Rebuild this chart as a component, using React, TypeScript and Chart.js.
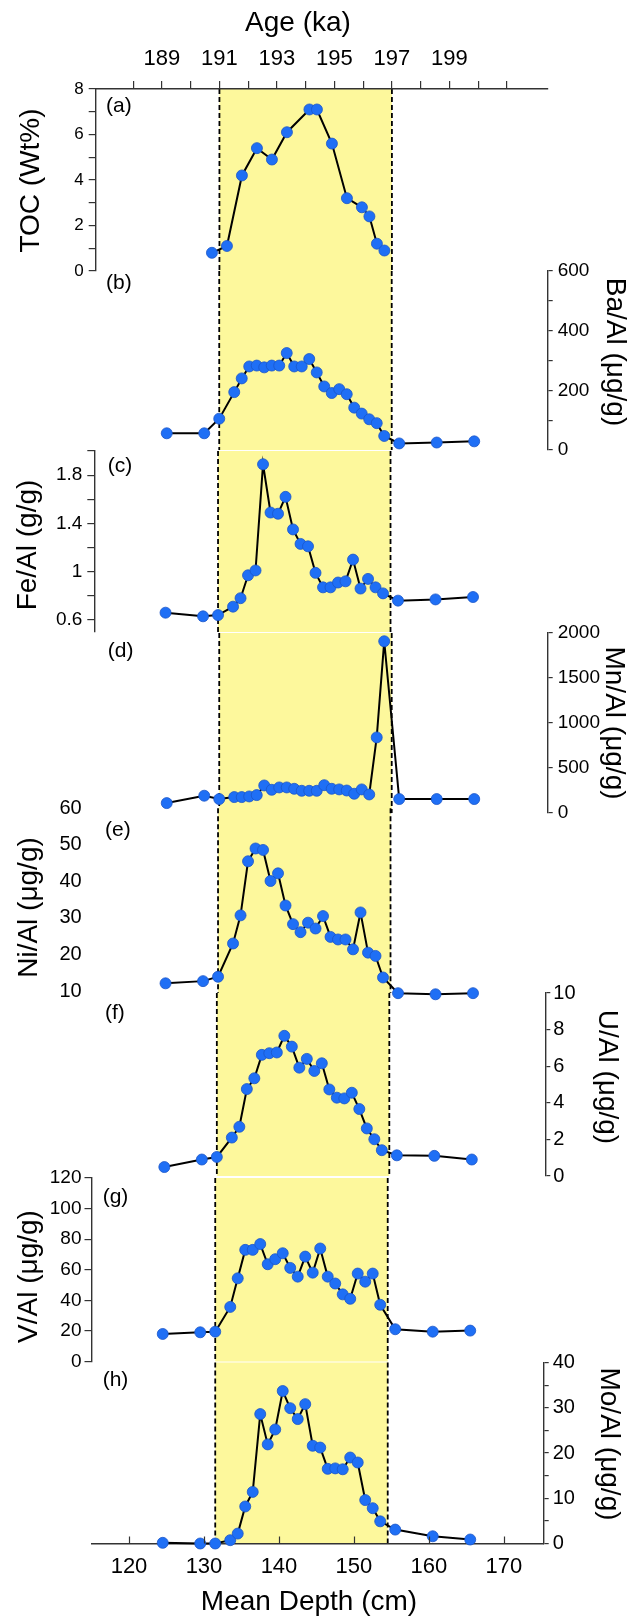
import React, { useEffect, useRef } from "react";
import { Chart, registerables } from "chart.js";

Chart.register(...registerables);

// ---------------- data ----------------
// Mean depth (cm) of the samples used in panels (b)-(h)
const sampleDepths = [
  124.5, 129.5, 131.5, 133.5, 134.5, 135.5, 136.5, 137.5, 138.5, 139.5, 140.5,
  141.5, 142.5, 143.5, 144.5, 145.5, 146.5, 147.5, 148.5, 149.5, 150.5, 151.5,
  152.5, 153.5, 155.5, 160.5, 165.5,
];
// Mean depth (cm) of the TOC samples, panel (a)
const tocDepths = [
  130.5, 132.5, 134.5, 136.5, 138.5, 140.5, 143.5, 144.5, 146.5, 148.5, 150.5,
  151.5, 152.5, 153.5,
];

const tocWt = [0.8, 1.1, 4.2, 5.4, 4.9, 6.1, 7.1, 7.1, 5.6, 3.2, 2.8, 2.4, 1.2, 0.9];
const baAl = [
  56, 56, 105, 194, 240, 280, 283, 277, 283, 283, 325, 280, 280, 305, 260, 213,
  191, 204, 187, 142, 122, 103, 90, 47, 22, 25, 29,
];
const feAl = [
  0.66, 0.63, 0.64, 0.71, 0.78, 0.97, 1.01, 1.89, 1.49, 1.48, 1.62, 1.35, 1.23,
  1.21, 0.99, 0.87, 0.87, 0.91, 0.92, 1.1, 0.86, 0.94, 0.87, 0.82, 0.76, 0.77, 0.79,
];
const mnAl = [
  110, 192, 155, 177, 177, 184, 199, 306, 258, 284, 284, 269, 247, 247, 247, 309,
  269, 262, 250, 214, 262, 206, 840, 1908, 155, 155, 155,
];
const niAl = [
  12.1, 12.7, 13.9, 23.0, 30.7, 45.5, 49.0, 48.6, 40.1, 42.2, 33.4, 28.3, 26.1,
  28.7, 27.1, 30.5, 24.8, 24.1, 24.1, 21.4, 31.5, 20.5, 19.6, 13.7, 9.4, 9.1, 9.4,
];
const uAl = [
  0.49, 0.9, 1.04, 2.1, 2.69, 4.75, 5.34, 6.62, 6.71, 6.75, 7.66, 7.07, 5.92, 6.4,
  5.74, 6.16, 4.73, 4.28, 4.24, 4.55, 3.66, 2.6, 2.01, 1.41, 1.13, 1.1, 0.9,
];
const vAl = [
  18.0, 19.1, 19.5, 35.7, 54.4, 73.0, 73.0, 76.8, 63.6, 66.9, 70.8, 61.2, 55.5,
  68.6, 58.1, 73.9, 55.5, 51.0, 43.9, 41.0, 57.5, 52.2, 57.5, 37.1, 21.1, 19.5, 20.2,
];
const moAl = [
  0.15, 0, 0, 0.73, 2.19, 8.18, 11.4, 28.6, 21.9, 25.2, 33.7, 29.9, 27.5, 30.8,
  21.6, 21.2, 16.5, 16.6, 16.4, 19.0, 17.9, 9.6, 7.8, 4.9, 3.07, 1.6, 0.88,
];

// tick values and tick labels
const tocTicks = [0, 1, 2, 3, 4, 5, 6, 7, 8];
const tocTickLabels = ["0", "", "2", "", "4", "", "6", "", "8"];
const baTicks = [0, 100, 200, 300, 400, 500, 600];
const baTickLabels = ["0", "", "200", "", "400", "", "600"];
const feTicks = [0.6, 0.8, 1.0, 1.2, 1.4, 1.6, 1.8, 2.0];
const feTickLabels = ["0.6", "", "1", "", "1.4", "", "1.8", ""];
const mnTicks = [0, 500, 1000, 1500, 2000];
const mnTickLabels = ["0", "500", "1000", "1500", "2000"];
const niTicks = [10, 20, 30, 40, 50, 60];
const niTickLabels = ["10", "20", "30", "40", "50", "60"];
const uTicks = [0, 2, 4, 6, 8, 10];
const uTickLabels = ["0", "2", "4", "6", "8", "10"];
const vTicks = [0, 20, 40, 60, 80, 100, 120];
const vTickLabels = ["0", "20", "40", "60", "80", "100", "120"];
const moTicks = [0, 5, 10, 15, 20, 25, 30, 35, 40];
const moTickLabels = ["0", "", "10", "", "20", "", "30", "", "40"];
const depthTicks = [120, 130, 140, 150, 160, 170];
const depthTickLabels = ["120", "130", "140", "150", "160", "170"];
const ageTicks = [188, 189, 190, 191, 192, 193, 194, 195, 196, 197, 198, 199, 200, 201];
const ageTickLabels = ["", "189", "", "191", "", "193", "", "195", "", "197", "", "199", "", ""];

// highlighted interval (depth, cm) and its age (ka)
const bandDepth = [131.5, 154.5];
const bandAge = [191, 197];

// ---------------- layout / style ----------------
const W = 630;
const H = 1621;
const X_MIN = 115;
const X_MAX = 175.3;
const PLOT_LEFT = 91.5;
const PLOT_RIGHT = 543.7;
const Y_AXIS_W = 80;
const X_AXIS_H = 45;
const FONT = "'Liberation Sans', Arial, Helvetica, sans-serif";
const AXIS = "#333333";
const BAND = "#fdf89c";
const POINT_FILL = "#1f6ff5";
const POINT_EDGE = "#1a55c8";

type Panel = {
  key: string;
  xs: number[];
  ys: number[];
  min: number;
  max: number;
  top: number;
  bottom: number;
  dx: number;
  side: "left" | "right";
  ticks: number[];
  tickLabels: string[];
  tickFont: number;
  tickLen: number;
  tickPad: number;
  axisLine: boolean;
  title: string;
  titleX: number;
  titleY: number;
  tag: string;
  tagX: number;
  tagY: number;
};

const panels: Panel[] = [
  { key: "a", xs: tocDepths, ys: tocWt, min: 0, max: 8, top: 89, bottom: 271, dx: 4.2, side: "left",
    ticks: tocTicks, tickLabels: tocTickLabels, tickFont: 17, tickLen: 7, tickPad: 5, axisLine: true,
    title: "TOC (Wt%)", titleX: 31, titleY: 180.5, tag: "(a)", tagX: 106, tagY: 106 },
  { key: "b", xs: sampleDepths, ys: baAl, min: 0, max: 600, top: 271, bottom: 450, dx: 4, side: "right",
    ticks: baTicks, tickLabels: baTickLabels, tickFont: 19, tickLen: 5, tickPad: 5, axisLine: true,
    title: "Ba/Al (\u03bcg/g)", titleX: 615, titleY: 352, tag: "(b)", tagX: 106, tagY: 283 },
  { key: "c", xs: sampleDepths, ys: feAl, min: 0.5, max: 2.0, top: 451, bottom: 632, dx: 2.8, side: "left",
    ticks: feTicks, tickLabels: feTickLabels, tickFont: 19, tickLen: 7, tickPad: 5, axisLine: true,
    title: "Fe/Al (g/g)", titleX: 28.4, titleY: 545, tag: "(c)", tagX: 107.8, tagY: 466.7 },
  { key: "d", xs: sampleDepths, ys: mnAl, min: 0, max: 2000, top: 633, bottom: 813, dx: 4, side: "right",
    ticks: mnTicks, tickLabels: mnTickLabels, tickFont: 19, tickLen: 5, tickPad: 5, axisLine: true,
    title: "Mn/Al (\u03bcg/g)", titleX: 613.6, titleY: 723, tag: "(d)", tagX: 107.8, tagY: 651.7 },
  { key: "e", xs: sampleDepths, ys: niAl, min: 9.45, max: 60, top: 808.3, bottom: 993, dx: 2.8, side: "left",
    ticks: niTicks, tickLabels: niTickLabels, tickFont: 20, tickLen: 0, tickPad: 12.6, axisLine: false,
    title: "Ni/Al (\u03bcg/g)", titleX: 29.6, titleY: 907.5, tag: "(e)", tagX: 105, tagY: 830 },
  { key: "f", xs: sampleDepths, ys: uAl, min: 0, max: 10, top: 993, bottom: 1176, dx: 1.6, side: "right",
    ticks: uTicks, tickLabels: uTickLabels, tickFont: 20, tickLen: 5, tickPad: 3, axisLine: true,
    title: "U/Al (\u03bcg/g)", titleX: 606.7, titleY: 1077, tag: "(f)", tagX: 105, tagY: 1013.3 },
  { key: "g", xs: sampleDepths, ys: vAl, min: 0, max: 120, top: 1178, bottom: 1361.5, dx: 0, side: "left",
    ticks: vTicks, tickLabels: vTickLabels, tickFont: 19, tickLen: 7, tickPad: 3, axisLine: true,
    title: "V/Al (\u03bcg/g)", titleX: 29.6, titleY: 1276.5, tag: "(g)", tagX: 102.7, tagY: 1197.3 },
  { key: "h", xs: sampleDepths, ys: moAl, min: 0, max: 40, top: 1362.5, bottom: 1543.5, dx: 0, side: "right",
    ticks: moTicks, tickLabels: moTickLabels, tickFont: 20, tickLen: 5, tickPad: 4, axisLine: true,
    title: "Mo/Al (\u03bcg/g)", titleX: 608.8, titleY: 1444, tag: "(h)", tagX: 102.7, tagY: 1380 },
];

// age scale from the depth scale (linear between band edges)
const ageOfDepth = (d: number) =>
  bandAge[0] + ((d - bandDepth[0]) * (bandAge[1] - bandAge[0])) / (bandDepth[1] - bandDepth[0]);

function makeChart(canvas: HTMLCanvasElement, p: Panel, isTop: boolean, isBottom: boolean) {
  const deco = {
    id: "deco" + p.key,
    beforeDraw(chart: any) {
      const { ctx, chartArea: ca } = chart;
      const x = chart.scales.x;
      const xl = x.getPixelForValue(bandDepth[0]);
      const xr = x.getPixelForValue(bandDepth[1]);
      ctx.save();
      ctx.fillStyle = BAND;
      ctx.fillRect(xl, ca.top, xr - xl, ca.bottom - ca.top);
      ctx.strokeStyle = "#000";
      ctx.lineWidth = 1.8;
      ctx.setLineDash([5, 3]);
      [xl, xr].forEach((px) => {
        ctx.beginPath();
        ctx.moveTo(px, ca.top);
        ctx.lineTo(px, ca.bottom);
        ctx.stroke();
      });
      ctx.restore();
    },
    afterDraw(chart: any) {
      const { ctx, chartArea: ca } = chart;
      ctx.save();
      ctx.fillStyle = "#000";
      ctx.textBaseline = "middle";
      ctx.font = `21px ${FONT}`;
      ctx.textAlign = "left";
      ctx.fillText(p.tag, p.tagX, p.tagY);
      ctx.save();
      ctx.translate(p.titleX, p.titleY);
      ctx.rotate(p.side === "left" ? -Math.PI / 2 : Math.PI / 2);
      ctx.font = `28px ${FONT}`;
      ctx.textAlign = "center";
      ctx.fillText(p.title, 0, 0);
      ctx.restore();
      if (isTop) {
        ctx.font = `28px ${FONT}`;
        ctx.textAlign = "center";
        ctx.fillText("Age (ka)", 298, 23);
      }
      if (isBottom) {
        const x = chart.scales.x;
        ctx.strokeStyle = AXIS;
        ctx.lineWidth = 1.2;
        x.ticks.forEach((t: any) => {
          const px = Math.round(x.getPixelForValue(t.value)) + 0.5;
          ctx.beginPath();
          ctx.moveTo(px, ca.bottom);
          ctx.lineTo(px, ca.bottom - 7);
          ctx.stroke();
        });
        ctx.font = `28px ${FONT}`;
        ctx.textAlign = "center";
        ctx.fillText("Mean Depth (cm)", 309, 1602);
      }
      ctx.restore();
    },
  };

  const scales: any = {
    x: {
      type: "linear",
      axis: "x",
      position: "bottom",
      min: X_MIN,
      max: X_MAX,
      display: isBottom,
      afterFit: (s: any) => {
        s.height = isBottom ? X_AXIS_H : 0;
      },
      afterBuildTicks: (s: any) => {
        s.ticks = depthTicks.map((v) => ({ value: v }));
      },
      grid: { display: true, drawOnChartArea: false, drawTicks: false },
      border: { display: true, color: AXIS, width: 1.4 },
      ticks: {
        autoSkip: false,
        maxRotation: 0,
        padding: 10,
        color: "#000",
        font: { size: 22, family: FONT },
        callback: (_v: any, i: number) => depthTickLabels[i],
      },
    },
    y: {
      type: "linear",
      axis: "y",
      position: p.side,
      min: p.min,
      max: p.max,
      afterFit: (s: any) => {
        s.width = Y_AXIS_W;
      },
      afterBuildTicks: (s: any) => {
        s.ticks = p.ticks.map((v) => ({ value: v }));
      },
      grid: {
        display: true,
        drawOnChartArea: false,
        drawTicks: p.tickLen > 0,
        tickLength: p.tickLen,
        color: AXIS,
        lineWidth: 1.2,
      },
      border: { display: p.axisLine, color: AXIS, width: 1.4 },
      ticks: {
        autoSkip: false,
        padding: p.tickPad,
        color: "#000",
        font: { size: p.tickFont, family: FONT },
        callback: (_v: any, i: number) => p.tickLabels[i],
      },
    },
  };

  if (isTop) {
    scales.xTop = {
      type: "linear",
      axis: "x",
      position: "top",
      min: ageOfDepth(X_MIN),
      max: ageOfDepth(X_MAX),
      afterFit: (s: any) => {
        s.height = X_AXIS_H;
      },
      afterBuildTicks: (s: any) => {
        s.ticks = ageTicks.map((v) => ({ value: v }));
      },
      grid: {
        display: true,
        drawOnChartArea: false,
        drawTicks: true,
        tickLength: 8,
        color: AXIS,
        lineWidth: 1.2,
      },
      border: { display: true, color: AXIS, width: 1.4 },
      ticks: {
        autoSkip: false,
        maxRotation: 0,
        padding: 8.5,
        color: "#000",
        font: { size: 22, family: FONT },
        callback: (_v: any, i: number) => ageTickLabels[i],
      },
    };
  }

  const chartLeft = PLOT_LEFT + p.dx;
  const chartRight = PLOT_RIGHT + p.dx;
  const padLeft = p.side === "left" ? chartLeft - Y_AXIS_W : chartLeft;
  const padRight = p.side === "right" ? W - chartRight - Y_AXIS_W : W - chartRight;
  const padTop = isTop ? p.top - X_AXIS_H : p.top;
  const padBottom = isBottom ? H - p.bottom - X_AXIS_H : H - p.bottom;

  return new Chart(canvas, {
    type: "line",
    data: {
      datasets: [
        {
          data: p.xs.map((d, i) => ({ x: d, y: p.ys[i] })),
          xAxisID: "x",
          yAxisID: "y",
          borderColor: "#000",
          borderWidth: 2,
          tension: 0,
          pointRadius: 5.5,
          pointBackgroundColor: POINT_FILL,
          pointBorderColor: POINT_EDGE,
          pointBorderWidth: 0.8,
          clip: false as any,
        },
      ],
    },
    options: {
      animation: false,
      responsive: false,
      devicePixelRatio: 1,
      events: [],
      layout: {
        padding: { left: padLeft, right: padRight, top: padTop, bottom: padBottom },
      },
      plugins: {
        legend: { display: false },
        tooltip: { enabled: false },
        title: { display: false },
      },
      scales,
    } as any,
    plugins: [deco],
  });
}

export default function App() {
  const refs = useRef<(HTMLCanvasElement | null)[]>([]);

  useEffect(() => {
    const charts = panels.map((p, i) =>
      makeChart(refs.current[i] as HTMLCanvasElement, p, i === 0, i === panels.length - 1)
    );
    return () => charts.forEach((c) => c.destroy());
  }, []);

  return (
    <div
      style={{
        position: "absolute",
        left: 0,
        top: 0,
        width: W,
        height: H,
        background: "#ffffff",
        overflow: "hidden",
      }}
    >
      {panels.map((p, i) => (
        <canvas
          key={p.key}
          ref={(el) => {
            refs.current[i] = el;
          }}
          width={W}
          height={H}
          style={{ position: "absolute", left: 0, top: 0, width: W, height: H }}
        />
      ))}
    </div>
  );
}
